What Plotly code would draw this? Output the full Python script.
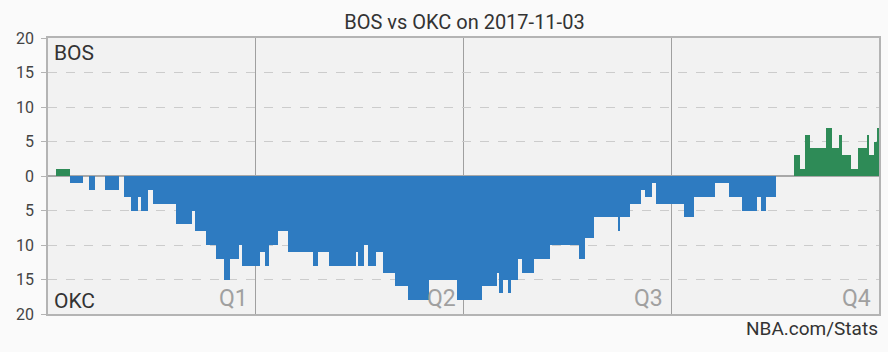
import plotly.graph_objects as go

# Game clock (minutes elapsed) at which each margin segment starts, and the BOS-OKC margin
seg_start = [0.00, 0.46, 1.29, 2.00, 2.38, 2.71, 3.30, 4.11, 4.38, 4.82, 5.17, 5.38, 5.80, 6.05,
             7.39, 8.33, 8.47, 9.14, 9.68, 10.17, 10.49, 11.06, 11.20, 12.22, 12.56, 12.74, 13.31,
             13.89, 15.29, 15.62, 16.25, 17.79, 17.92, 18.27, 18.51, 18.94, 19.36, 20.05, 20.80,
             22.01, 23.60, 25.08, 25.95, 26.05, 26.28, 26.56, 26.72, 27.14, 27.39, 28.06, 28.98,
             30.66, 31.04, 31.52, 32.96, 33.05, 33.62, 34.23, 34.50, 34.88, 35.11, 36.71, 37.34,
             38.53, 39.36, 40.07, 40.93, 41.18, 41.47, 42.05, 43.10, 43.43, 43.72, 44.01, 44.91,
             45.29, 45.68, 45.87, 46.41, 46.80, 47.33, 47.42, 47.71, 47.94]
margin = [0, 1, -1, 0, -2, 0, -2, 0, -3, -5, -3, -5, -2, -4,
          -7, -5, -8, -10, -12, -15, -12, -10, -13, -11, -13, -10, -8,
          -11, -13, -11, -13, -11, -13, -10, -13, -11, -14, -16, -18,
          -15, -18, -16, -14, -17, -15, -17, -15, -12, -14, -12, -10,
          -12, -9, -6, -8, -6, -4, -2, -3, -1, -4, -6, -3,
          -1, -3, -5, -3, -5, -3, 0, 3, 1, 6, 4, 7,
          4, 6, 3, 1, 4, 6, 3, 5, 7]
game_end = 48.0

y_ticks = [-20, -15, -10, -5, 0, 5, 10, 15, 20]
y_tick_text = [str(abs(v)) for v in y_ticks]
quarter_lines = [12, 24, 36]
quarter_labels = ["Q1", "Q2", "Q3", "Q4"]
quarter_ends = [12, 24, 36, 48]
home, away = "BOS", "OKC"
title = "BOS vs OKC on 2017-11-03"
source = "NBA.com/Stats"

BLUE = "#2e7bc1"
GREEN = "#2e8b57"

seg_end = seg_start[1:] + [game_end]
widths = [e - s for s, e in zip(seg_start, seg_end)]
colors = [GREEN if m > 0 else BLUE for m in margin]

fig = go.Figure()
fig.add_trace(go.Bar(
    x=seg_start, y=margin, width=widths, offset=0,
    marker=dict(color=colors, line=dict(width=0)),
    hoverinfo="skip", showlegend=False,
))

fig.update_layout(
    width=888, height=352,
    margin=dict(l=48, r=7, t=38, b=38),
    paper_bgcolor="#fafafa",
    plot_bgcolor="#f2f2f2",
    bargap=0,
    font=dict(family="Roboto", color="#444"),
    title=dict(text=title, x=0.523, xanchor="center", y=1 - 22 / 352, yanchor="middle",
               font=dict(family="Roboto", size=20, color="#333")),
    xaxis=dict(range=[0, game_end], tickvals=quarter_lines, showticklabels=False, ticks="",
               showgrid=True, gridcolor="#a0a0a0", gridwidth=1, zeroline=False,
               showline=True, linecolor="#b4b4b4", linewidth=1.5, mirror=True, fixedrange=True),
    yaxis=dict(range=[-20, 20], tickvals=y_ticks, ticktext=y_tick_text,
               ticks="outside", ticklen=5, tickcolor="#b4b4b4", ticklabelstandoff=4,
               tickfont=dict(size=16, color="#444"),
               showgrid=True, gridcolor="#cccccc", griddash="dash", gridwidth=1,
               zeroline=True, zerolinecolor="#a8a8a8", zerolinewidth=1.5,
               showline=True, linecolor="#b4b4b4", linewidth=1.5, mirror=True, fixedrange=True),
)

annotations = [
    dict(text=home, xref="paper", yref="paper", x=0, y=(314 - 53) / 276.5, xanchor="left",
         yanchor="middle", xshift=4, showarrow=False, font=dict(size=21, color="#333")),
    dict(text=away, xref="paper", yref="paper", x=0, y=(314 - 300.5) / 276.5, xanchor="left",
         yanchor="middle", xshift=4, showarrow=False, font=dict(size=21, color="#333")),
    dict(text=source, xref="paper", yref="paper", x=1, y=(314 - 328.5) / 276.5, xanchor="right",
         yanchor="middle", xshift=1, showarrow=False, font=dict(size=19, color="#333")),
]
for q, qe in zip(quarter_labels, quarter_ends):
    annotations.append(dict(text=q, x=qe, xref="x", yref="paper", y=(314 - 298) / 276.5,
                            xanchor="right", yanchor="middle", xshift=-6, showarrow=False,
                            font=dict(size=23, color="#a0a0a0")))
fig.update_layout(annotations=annotations)

fig.write_html("out.html")
